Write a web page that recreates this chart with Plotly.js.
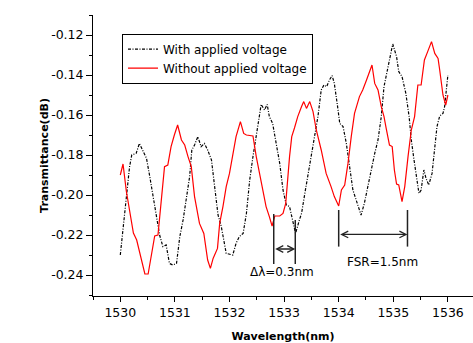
<!DOCTYPE html>
<html>
<head>
<meta charset="utf-8">
<script src="https://cdn.plot.ly/plotly-3.0.1.min.js"></script>
<style>html,body{margin:0;padding:0;background:#fff;}#chart{width:473px;height:343px;}</style>
</head>
<body>
<div id="chart"></div>
<script>
// Series: "With applied voltage" (black dash-dot)
const withX = [1530.00,1530.05,1530.11,1530.17,1530.21,1530.29,1530.35,1530.41,1530.48,1530.54,1530.60,1530.66,1530.72,1530.78,1530.84,1530.90,1530.96,1531.03,1531.09,1531.15,1531.21,1531.27,1531.31,1531.36,1531.42,1531.48,1531.54,1531.60,1531.67,1531.73,1531.79,1531.85,1531.91,1531.94,1532.06,1532.12,1532.18,1532.25,1532.31,1532.37,1532.43,1532.49,1532.55,1532.58,1532.64,1532.69,1532.73,1532.79,1532.86,1532.92,1532.98,1533.04,1533.10,1533.16,1533.21,1533.28,1533.32,1533.38,1533.44,1533.50,1533.56,1533.62,1533.68,1533.73,1533.78,1533.83,1533.88,1533.92,1533.98,1534.02,1534.08,1534.14,1534.20,1534.26,1534.32,1534.38,1534.41,1534.47,1534.53,1534.60,1534.66,1534.72,1534.78,1534.83,1534.88,1534.93,1534.99,1535.06,1535.10,1535.16,1535.23,1535.29,1535.33,1535.38,1535.42,1535.47,1535.51,1535.56,1535.60,1535.65,1535.71,1535.76,1535.80,1535.85,1535.91,1535.94,1535.97,1536.00];
const withY = [-0.230,-0.2175,-0.2025,-0.1858,-0.180,-0.1792,-0.1742,-0.1775,-0.1817,-0.1908,-0.2008,-0.2108,-0.220,-0.2258,-0.225,-0.2342,-0.235,-0.2342,-0.2208,-0.2125,-0.2025,-0.1908,-0.1775,-0.175,-0.1708,-0.1758,-0.1742,-0.1775,-0.1825,-0.1958,-0.210,-0.2158,-0.2242,-0.2292,-0.230,-0.2242,-0.2208,-0.2192,-0.2092,-0.1925,-0.1808,-0.1692,-0.160,-0.1547,-0.1575,-0.1547,-0.1608,-0.1642,-0.1742,-0.1842,-0.1975,-0.205,-0.2058,-0.2125,-0.2192,-0.2125,-0.2092,-0.1992,-0.1892,-0.1792,-0.1692,-0.1608,-0.1475,-0.145,-0.1458,-0.1425,-0.1403,-0.1442,-0.1558,-0.1642,-0.1658,-0.1742,-0.1858,-0.1975,-0.2025,-0.2075,-0.210,-0.2042,-0.1958,-0.1875,-0.1792,-0.1725,-0.1608,-0.1458,-0.1392,-0.1325,-0.1245,-0.1308,-0.1383,-0.1408,-0.1492,-0.1608,-0.1725,-0.1825,-0.1908,-0.1992,-0.1975,-0.1875,-0.1917,-0.195,-0.1892,-0.1775,-0.1658,-0.1605,-0.1592,-0.1558,-0.1475,-0.140];

// Series: "Without applied voltage" (red solid)
const withoutX = [1530.00,1530.05,1530.11,1530.17,1530.24,1530.30,1530.38,1530.45,1530.51,1530.57,1530.63,1530.69,1530.75,1530.81,1530.87,1530.93,1530.99,1531.05,1531.12,1531.18,1531.24,1531.30,1531.36,1531.45,1531.53,1531.60,1531.65,1531.70,1531.78,1531.82,1531.88,1531.94,1532.00,1532.06,1532.12,1532.20,1532.26,1532.31,1532.43,1532.49,1532.55,1532.61,1532.67,1532.73,1532.78,1532.83,1532.92,1532.98,1533.03,1533.10,1533.14,1533.19,1533.25,1533.32,1533.36,1533.41,1533.47,1533.53,1533.59,1533.68,1533.77,1533.86,1533.92,1534.00,1534.05,1534.11,1534.17,1534.23,1534.29,1534.38,1534.44,1534.51,1534.57,1534.61,1534.66,1534.72,1534.78,1534.83,1534.87,1534.93,1534.98,1535.02,1535.06,1535.10,1535.16,1535.21,1535.27,1535.33,1535.39,1535.45,1535.51,1535.57,1535.63,1535.70,1535.76,1535.82,1535.85,1535.91,1535.96,1536.00];
const withoutY = [-0.190,-0.1845,-0.198,-0.2075,-0.219,-0.2225,-0.2325,-0.2395,-0.2395,-0.229,-0.2205,-0.220,-0.204,-0.1858,-0.185,-0.1758,-0.170,-0.165,-0.1725,-0.175,-0.1808,-0.1858,-0.2008,-0.2142,-0.2192,-0.2325,-0.2367,-0.2317,-0.2267,-0.2142,-0.2058,-0.1958,-0.1892,-0.1808,-0.1708,-0.1633,-0.1692,-0.170,-0.1705,-0.1808,-0.1892,-0.1975,-0.2058,-0.2108,-0.2155,-0.2105,-0.2105,-0.2092,-0.2042,-0.1808,-0.1708,-0.1665,-0.1608,-0.1558,-0.1533,-0.1567,-0.1533,-0.1583,-0.1675,-0.1775,-0.1892,-0.1958,-0.2008,-0.2055,-0.1975,-0.195,-0.1842,-0.1708,-0.1592,-0.1508,-0.1475,-0.1425,-0.1383,-0.135,-0.1442,-0.1475,-0.1558,-0.1608,-0.1667,-0.175,-0.1758,-0.1875,-0.1945,-0.195,-0.2033,-0.1958,-0.1808,-0.1675,-0.1608,-0.145,-0.145,-0.1325,-0.1283,-0.1233,-0.1292,-0.1317,-0.1375,-0.150,-0.155,-0.150];

// Tick labels
const xTickVals = [1530,1531,1532,1533,1534,1535,1536];
const xTickText = ["1530","1531","1532","1533","1534","1535","1536"];
const yTickVals = [-0.24,-0.22,-0.20,-0.18,-0.16,-0.14,-0.12];
const yTickText = ["-0.24","-0.22","-0.20","-0.18","-0.16","-0.14","-0.12"];

// Measurement markers (wavelengths of the interval ends, nm)
const dlStart = 1532.81, dlEnd = 1533.205;
const fsrStart = 1534.0, fsrEnd = 1535.26;

const tickFont = {family: "DejaVu Sans", size: 12.5, color: "#000"};
const titleFont = {family: "DejaVu Sans", size: 11, color: "#000", weight: "bold"};
const markColor = "#222";

const traces = [
  {x: withX, y: withY, type: "scatter", mode: "lines", name: "With applied voltage",
   line: {color: "#000", width: 1.2, dash: "3px,1.5px,1px,1.5px"}},
  {x: withoutX, y: withoutY, type: "scatter", mode: "lines", name: "Without applied voltage",
   line: {color: "#ff0000", width: 1.2}}
];

const vline = (x, y0, y1) => ({type: "line", xref: "x", yref: "y", x0: x, x1: x, y0: y0, y1: y1,
  line: {color: markColor, width: 1.5}});
const dblArrow = (xa, xb, y) => ({xref: "x", yref: "y", axref: "x", ayref: "y",
  x: xb, y: y, ax: xa, ay: y, text: "", showarrow: true, arrowside: "end+start",
  arrowhead: 5, startarrowhead: 5, arrowsize: 1, startarrowsize: 1, arrowwidth: 1.3,
  arrowcolor: markColor, standoff: 0, startstandoff: 0});

const layout = {
  width: 473, height: 343,
  margin: {l: 93, r: 0, t: 15, b: 47},
  paper_bgcolor: "#fff", plot_bgcolor: "#fff",
  showlegend: true,
  legend: {x: 0.0763, y: 0.934, xanchor: "left", yanchor: "top",
    bgcolor: "#fff", bordercolor: "#000", borderwidth: 1,
    font: {family: "DejaVu Sans", size: 12, color: "#000"},
    tracegroupgap: 0, itemwidth: 30},
  xaxis: {range: [1529.5, 1536.46], showgrid: false, zeroline: false,
    showline: true, linecolor: "#000", linewidth: 1,
    ticks: "outside", ticklen: 5, tickwidth: 1, tickcolor: "#000",
    tickmode: "array", tickvals: xTickVals, ticktext: xTickText, tickfont: tickFont,
    minor: {ticks: "outside", ticklen: 3, tickwidth: 1, tickcolor: "#000", dtick: 0.5, tick0: 1529.5, showgrid: false},
    title: {text: "Wavelength(nm)", font: titleFont, standoff: 14}},
  yaxis: {range: [-0.2505, -0.11], showgrid: false, zeroline: false,
    showline: true, linecolor: "#000", linewidth: 1,
    ticks: "outside", ticklen: 6, tickwidth: 1, tickcolor: "#000",
    tickmode: "array", tickvals: yTickVals, ticktext: yTickText, tickfont: tickFont,
    minor: {ticks: "outside", ticklen: 3, tickwidth: 1, tickcolor: "#000", dtick: 0.01, tick0: -0.25, showgrid: false},
    title: {text: "Transmittance(dB)", font: titleFont, standoff: 0}},
  shapes: [
    vline(dlStart, -0.2095, -0.2345),
    vline(dlEnd, -0.2125, -0.2345),
    vline(fsrStart, -0.2075, -0.2258),
    vline(fsrEnd, -0.2075, -0.2258)
  ],
  annotations: [
    dblArrow(dlStart, dlEnd, -0.227),
    dblArrow(fsrStart, fsrEnd, -0.2197),
    {xref: "x", yref: "y", x: 1532.97, y: -0.2385, text: "Δλ=0.3nm", showarrow: false,
     font: {family: "DejaVu Sans", size: 12, color: "#000"}},
    {xref: "x", yref: "y", x: 1534.80, y: -0.2334, text: "FSR=1.5nm", showarrow: false,
     font: {family: "DejaVu Sans", size: 12, color: "#000"}}
  ]
};

Plotly.newPlot("chart", traces, layout, {displayModeBar: false, staticPlot: true});
</script>
</body>
</html>
